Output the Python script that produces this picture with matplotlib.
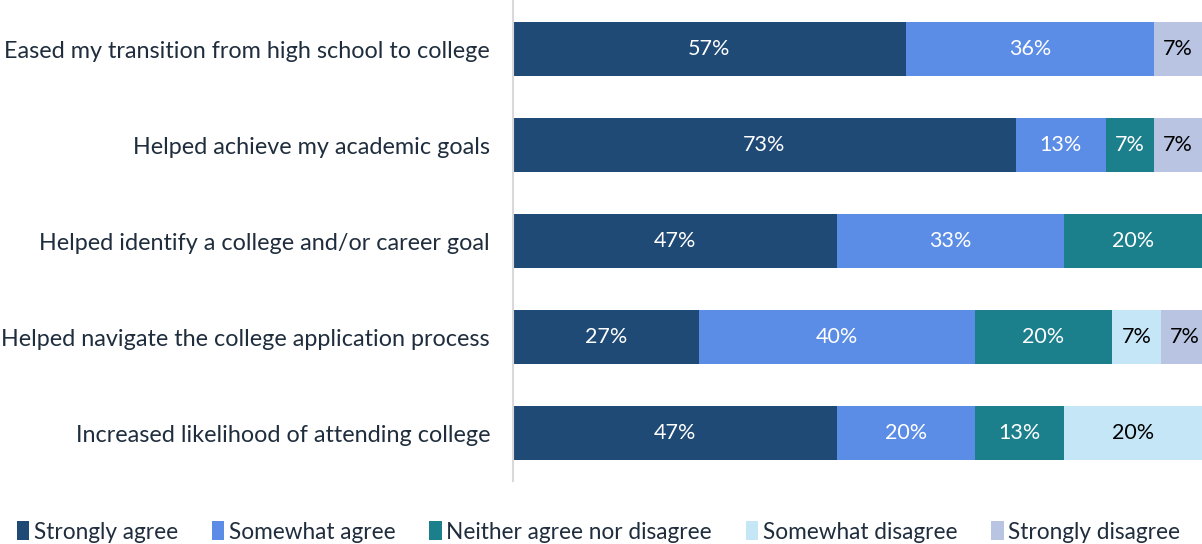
import numpy as np
import matplotlib.pyplot as plt
from matplotlib.patches import Patch

plt.rcParams['font.family'] = ['Lato', 'DejaVu Sans']

categories = ['Eased my transition from high school to college',
              'Helped achieve my academic goals',
              'Helped identify a college and/or career goal',
              'Helped navigate the college application process',
              'Increased likelihood of attending college']
responses = ['Strongly agree', 'Somewhat agree', 'Neither agree nor disagree',
             'Somewhat disagree', 'Strongly disagree']
strongly_agree = [57, 73, 47, 27, 47]
somewhat_agree = [36, 13, 33, 40, 20]
neither = [0, 7, 20, 20, 13]
somewhat_disagree = [0, 0, 0, 7, 20]
strongly_disagree = [7, 7, 0, 7, 0]

colors = ['#1F4A76', '#5B8DE6', '#1B7F8C', '#C5E6F7', '#B8C4E2']
text_colors = ['white', 'white', 'white', 'black', 'black']

series = [strongly_agree, somewhat_agree, neither, somewhat_disagree, strongly_disagree]

fig = plt.figure(figsize=(12.02, 5.44), dpi=100)
ax = fig.add_axes([513 / 1202, 1 - 481 / 544, 1 - 513 / 1202, 480 / 544])

y = np.arange(len(categories))
left = np.zeros(len(categories))
for vals, col, tc in zip(series, colors, text_colors):
    vals = np.array(vals, dtype=float)
    ax.barh(y, vals, left=left, height=0.5625, color=col, edgecolor='none')
    for yi, (l, v) in enumerate(zip(left, vals)):
        if v > 0:
            ax.text(l + v / 2, yi, f'{v:.0f}%', ha='center', va='center',
                    color=tc, fontsize=15.5)
    left += vals

ax.set_xlim(0, 100)
ax.set_ylim(len(categories) - 0.5, -0.5)
ax.set_yticks(y)
ax.set_yticklabels(categories, fontsize=16.8, color='#1F2D3D')
ax.tick_params(axis='y', length=0, pad=16.5)
ax.set_xticks([])
for s in ['top', 'right', 'bottom']:
    ax.spines[s].set_visible(False)
ax.spines['left'].set_color('#D9D9D9')
ax.spines['left'].set_linewidth(1.5)

handles = [Patch(facecolor=c, edgecolor='none') for c in colors]
leg = fig.legend(handles, responses, loc='lower center', ncol=5, frameon=False,
                 fontsize=16.3, bbox_to_anchor=(0.498, -0.035),
                 handlelength=0.55, handleheight=0.9, handletextpad=0.2,
                 columnspacing=1.5)
for t in leg.get_texts():
    t.set_color('#1F2D3D')

fig.savefig('out.png', dpi=100)
